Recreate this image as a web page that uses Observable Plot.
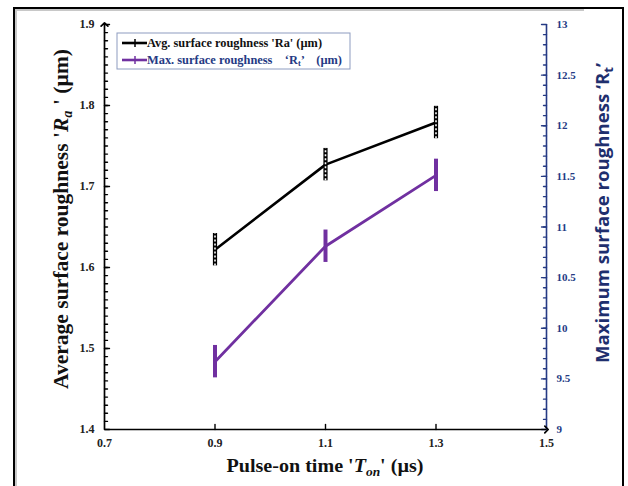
<!DOCTYPE html>
<html><head><meta charset="utf-8">
<script src="https://cdn.jsdelivr.net/npm/d3@7"></script>
<script src="https://cdn.jsdelivr.net/npm/@observablehq/plot@0.6"></script>
<style>
body{margin:0;background:#fff;}
#wrap{position:relative;width:628px;height:486px;overflow:hidden;}
#frame{position:absolute;left:13px;top:7px;width:607px;height:490px;border-left:2px solid #000;border-top:2px solid #000;border-right:2px solid #000;}
#inner{position:absolute;left:15px;top:9px;width:567px;height:490px;border-left:2px solid #c8c8c8;border-top:2px solid #c8c8c8;}
#chart{position:absolute;left:0;top:0;}
</style></head><body>
<div id="wrap"><div id="frame"></div><div id="inner"></div><div id="chart"></div></div>
<script>
const xTon = [0.9, 1.1, 1.3];
const ra = [1.622, 1.727, 1.779];
const raErr = [0.02, 0.02, 0.02];
const rt = [9.67, 10.81, 11.51];
const rtErr = [0.16, 0.16, 0.16];
const xTicks = [0.7, 0.9, 1.1, 1.3, 1.5];
const raTicks = [1.4, 1.5, 1.6, 1.7, 1.8, 1.9];
const rtTicks = [9, 9.5, 10, 10.5, 11, 11.5, 12, 12.5, 13];
const xDomain = [0.7, 1.5];
const raDomain = [1.4, 1.9];
const rtDomain = [9, 13];

const toLeft = v => raDomain[0] + (v - rtDomain[0]) * (raDomain[1] - raDomain[0]) / (rtDomain[1] - rtDomain[0]);
const fromLeft = v => rtDomain[0] + (v - raDomain[0]) * (rtDomain[1] - rtDomain[0]) / (raDomain[1] - raDomain[0]);

const raData = xTon.map((x, i) => ({x, y: ra[i], lo: ra[i] - raErr[i], hi: ra[i] + raErr[i]}));
const rtData = xTon.map((x, i) => ({x, y: toLeft(rt[i]), lo: toLeft(rt[i] - rtErr[i]), hi: toLeft(rt[i] + rtErr[i])}));

const raMinor = d3.range(1, 50).map(i => raDomain[0] + i * 0.01);
const rtMinor = d3.range(1, 40).map(i => toLeft(rtDomain[0] + i * 0.1));

const navy = "#253a84";
const purple = "#7030a0";
const serif = "'Liberation Serif', 'Times New Roman', serif";
const tickShape = {draw(ctx, l) { ctx.moveTo(0, 0); ctx.lineTo(0, -l); }};

const plot = Plot.plot({
  width: 628,
  height: 486,
  marginLeft: 104,
  marginRight: 82,
  marginTop: 24,
  marginBottom: 57,
  style: {fontFamily: serif, background: "transparent", overflow: "visible"},
  x: {domain: xDomain},
  y: {domain: raDomain},
  marks: [
    // tick labels
    Plot.axisY({ticks: raTicks, tickSize: 0, tickPadding: 10, tickFormat: d => d.toFixed(1), anchor: "left", label: null, fontSize: 12, fontWeight: "bold", fill: "#222"}),
    Plot.axisY({ticks: rtTicks.map(toLeft), tickSize: 0, tickPadding: 10, tickFormat: d => String(+fromLeft(d).toFixed(1)), anchor: "right", label: null, fontSize: 11, fontWeight: "bold", fill: navy}),
    Plot.axisX({ticks: xTicks, tickSize: 0, tickPadding: 9, tickFormat: d => d.toFixed(1), label: null, fontSize: 12, fontWeight: "bold", fill: "#222"}),
    // inward ticks
    Plot.vector(raMinor, {x: () => xDomain[0], y: d => d, rotate: 90, length: 3, anchor: "start", shape: tickShape, stroke: "#000", strokeWidth: 1.4}),
    Plot.vector(raTicks, {x: () => xDomain[0], y: d => d, rotate: 90, length: 5, anchor: "start", shape: tickShape, stroke: "#000", strokeWidth: 1.4}),
    Plot.vector(rtMinor, {x: () => xDomain[1], y: d => d, rotate: -90, length: 3, anchor: "start", shape: tickShape, stroke: navy, strokeWidth: 1.4}),
    Plot.vector(rtTicks.map(toLeft), {x: () => xDomain[1], y: d => d, rotate: -90, length: 5, anchor: "start", shape: tickShape, stroke: navy, strokeWidth: 1.4}),
    Plot.vector(xTicks.slice(1, -1), {x: d => d, y: () => raDomain[0], rotate: 0, length: 5, anchor: "start", shape: tickShape, stroke: "#000", strokeWidth: 1.4}),
    // axis lines
    Plot.ruleX([xDomain[1]], {y1: raDomain[0], y2: raDomain[1], stroke: navy, strokeWidth: 1.6}),
    Plot.link([{}], {x1: xDomain[0], y1: raDomain[0], x2: xDomain[1], y2: raDomain[0], stroke: "#000", strokeWidth: 1.7, markerEnd: "arrow"}),
    Plot.link([{}], {x1: xDomain[0], y1: raDomain[0], x2: xDomain[0], y2: raDomain[1], stroke: "#000", strokeWidth: 1.7, markerEnd: "arrow"}),
    // Rt series
    Plot.line(rtData, {x: "x", y: "y", stroke: purple, strokeWidth: 2.8}),
    Plot.ruleX(rtData, {x: "x", y1: "lo", y2: "hi", stroke: purple, strokeWidth: 4}),
    // Ra series
    Plot.line(raData, {x: "x", y: "y", stroke: "#000", strokeWidth: 2.6}),
    Plot.ruleX(raData, {x: "x", y1: "lo", y2: "hi", stroke: "#000", strokeWidth: 4.2}),
    Plot.ruleX(raData, {x: "x", y1: "lo", y2: "hi", stroke: "#fff", strokeWidth: 1.6, strokeDasharray: "2,2"})
  ]
});
document.getElementById("chart").appendChild(plot);

const svg = d3.select(plot);
// Left axis title
const lt = svg.append("text")
  .attr("transform", "translate(68,219) rotate(-90)")
  .attr("text-anchor", "middle")
  .attr("textLength", 340).attr("lengthAdjust", "spacingAndGlyphs")
  .attr("font-family", serif).attr("font-weight", "bold").attr("font-size", 21).attr("fill", "#111");
lt.append("tspan").text("Average surface roughness '");
lt.append("tspan").attr("font-style", "italic").text("R");
lt.append("tspan").attr("font-style", "italic").attr("font-size", 14).attr("dy", 4).text("a");
lt.append("tspan").attr("dy", -4).text(" ' (µm)");

// Right axis title
const rtT = svg.append("text")
  .attr("transform", "translate(609,213) rotate(-90)")
  .attr("text-anchor", "middle")
  .attr("textLength", 300).attr("lengthAdjust", "spacingAndGlyphs")
  .attr("font-family", "'Open Sans', 'Noto Sans', sans-serif").attr("font-weight", "bold").attr("font-size", 18.5).attr("fill", "#1f2f6e");
rtT.append("tspan").text("Maximum surface roughness ‘R");
rtT.append("tspan").attr("font-size", 13).attr("dy", 4).text("t");
rtT.append("tspan").attr("dy", -4).text("’");

// X title
const xt = svg.append("text")
  .attr("x", 325).attr("y", 472)
  .attr("text-anchor", "middle")
  .attr("textLength", 197).attr("lengthAdjust", "spacingAndGlyphs")
  .attr("font-family", serif).attr("font-weight", "bold").attr("font-size", 19.5).attr("fill", "#111");
xt.append("tspan").text("Pulse-on time '");
xt.append("tspan").attr("font-style", "italic").text("T");
xt.append("tspan").attr("font-style", "italic").attr("font-size", 13).attr("dy", 4).text("on");
xt.append("tspan").attr("dy", -4).text("' (µs)");

// Legend
const lg = svg.append("g");
lg.append("rect").attr("x", 117).attr("y", 33).attr("width", 233).attr("height", 36)
  .attr("fill", "#fff").attr("stroke", "#8d9cc0").attr("stroke-width", 1);
const items = [
  {y: 47, color: "#000", textColor: "#111", len: 175, parts: [["Avg. surface roughness 'Ra' (µm)"]]},
  {y: 64, color: purple, textColor: navy, len: 195, parts: [["Max. surface roughness    ‘R"], ["t", "sub"], ["’    (µm)"]]}
];
items.forEach(it => {
  lg.append("line").attr("x1", 122).attr("x2", 147).attr("y1", it.y - 4).attr("y2", it.y - 4).attr("stroke", it.color).attr("stroke-width", 2.6);
  lg.append("line").attr("x1", 135).attr("x2", 135).attr("y1", it.y - 8).attr("y2", it.y).attr("stroke", it.color).attr("stroke-width", 1.5);
  const t = lg.append("text").attr("x", 147).attr("y", it.y)
    .attr("text-anchor", "start")
    .attr("textLength", it.len).attr("lengthAdjust", "spacingAndGlyphs")
    .attr("font-family", serif).attr("font-weight", "bold").attr("font-size", 12).attr("fill", it.textColor)
    .attr("xml:space", "preserve").style("white-space", "pre");
  it.parts.forEach((p, i) => {
    if (p[1] === "sub") t.append("tspan").attr("font-size", 8).attr("dy", 2).text(p[0]);
    else t.append("tspan").attr("dy", i > 0 ? -2 : 0).text(p[0]);
  });
});
</script>
</body></html>
